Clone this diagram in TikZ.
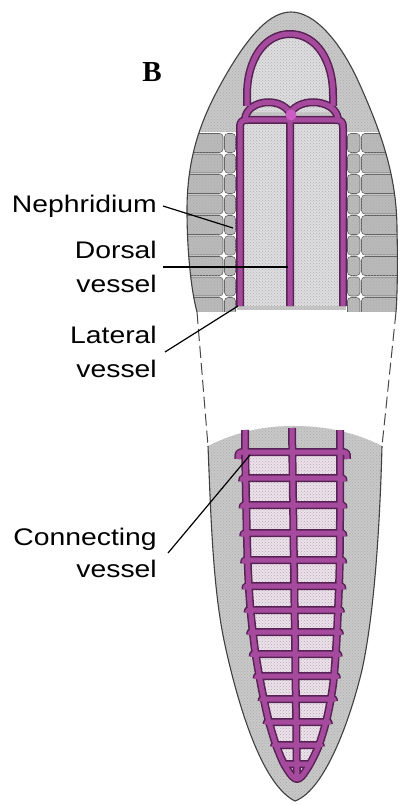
\documentclass[tikz,border=0pt]{standalone}
\usepackage{fontspec}
\setmainfont{Liberation Sans}
\newfontfamily\figserif{Liberation Serif}
\usetikzlibrary{patterns}

\definecolor{vesfill}{RGB}{166,74,158}
\definecolor{vesedge}{RGB}{88,34,84}
\definecolor{hub}{RGB}{205,92,196}
\definecolor{tissue}{RGB}{200,200,200}
\definecolor{cellgray}{RGB}{186,186,186}
\definecolor{gut}{RGB}{222,222,225}
\definecolor{lumen}{RGB}{238,225,236}

\tikzset{
  stipple/.style={postaction={pattern=crosshatch dots, pattern color=black!32}},
  vessels/.style={draw=vesfill, line width=5pt, line join=round,
    preaction={draw=vesedge, line width=8pt, line join=round}},
  outline/.style={draw=black!75, line width=1.1pt},
  gapline/.style={draw=black!72, line width=1pt, dash pattern=on 12pt off 5pt},
  cellbox/.style={draw=black!62, line width=0.6pt, rounded corners=3.5pt,
    fill=cellgray, stipple},
  tag/.style={font=\fontsize{24}{34}\selectfont, inner sep=0pt, xscale=1.18,
    align=right, anchor=east},
  leader/.style={draw=black, line width=1.2pt},
}

\def\headoutline{(197,312) .. controls (191,290) and (187,250) .. (187,210)
  .. controls (187,150) and (205,110) .. (230,68)
  .. controls (250,35) and (270,12) .. (291,12)
  .. controls (314,12) and (340,40) .. (360,85)
  .. controls (380,130) and (397,175) .. (397,230)
  .. controls (398,270) and (397,300) .. (396,312)}

\def\headloop{(247,106) -- (247,95) .. controls (247,60) and (264,34) .. (290,34)
    .. controls (316,34) and (333,60) .. (333,95) -- (333,106)}

\begin{document}
\begin{tikzpicture}[x=1pt,y=-1pt]
\useasboundingbox (0,0) rectangle (400,805);
\fill[white] (0,0) rectangle (400,805);

% ---------- anterior piece ----------
\begin{scope}
  \clip (0,0) rectangle (400,309);
  \fill[tissue, stipple] \headoutline -- cycle;
\end{scope}

% segmental nephridia on both flanks
\begin{scope}
  \clip \headoutline -- cycle;
  \clip (0,0) rectangle (400,311);
  \fill[white] (180,132) rectangle (237,312);
  \fill[white] (346,132) rectangle (400,312);
  \foreach \k in {0,...,8} {
    \pgfmathsetmacro\ya{133.5+20.5*\k}
    \pgfmathsetmacro\yb{\ya+19}
    \draw[cellbox] (170,\ya) rectangle (223,\yb);
    \draw[cellbox] (224.5,\ya) rectangle (235.5,\yb);
    \draw[cellbox] (347.5,\ya) rectangle (360,\yb);
    \draw[cellbox] (361.5,\ya) rectangle (412,\yb);
  }
\end{scope}

% gut and head cavity
\fill[gut, stipple] (240,120) rectangle (343,306);
\fill[gut, stipple] \headloop -- (333,112) -- (247,112) -- cycle;

\draw[outline] \headoutline;

% anterior blood vessels
\draw[vessels]
  (240,306) -- (240,128) .. controls (240,121) and (242,120) .. (248,120)
    -- (335,120) .. controls (341,120) and (343,121) .. (343,128) -- (343,306)
  (290,114) -- (290,306)
  (245,119) .. controls (247,100) and (280,96) .. (290,113)
    .. controls (301,96) and (336,100) .. (338,119)
  \headloop;
\fill[hub] (291,115) circle (5.5pt);

% ---------- posterior piece ----------
\fill[tissue, stipple] (208,446) .. controls (240,430) and (268,426) .. (294,426)
  .. controls (320,426) and (350,430) .. (382,446)
  .. controls (380,520) and (375,610) .. (362,670)
  .. controls (350,720) and (325,790) .. (295,801)
  .. controls (262,785) and (238,705) .. (225,645)
  .. controls (213,590) and (211,520) .. (208,446) -- cycle;
\draw[outline] (208,446) .. controls (211,520) and (213,590) .. (225,645)
  .. controls (238,705) and (262,785) .. (295,801)
  .. controls (325,790) and (350,720) .. (362,670)
  .. controls (375,610) and (380,520) .. (382,446);

\def\ladderrim{plot[smooth] coordinates {(245,430) (245.5,470) (246.5,520) (248,570)
  (250.5,610) (255,650) (261,685) (268,718) (276,745) (284,764) (292,776)
  (297,779) (302,776) (310,764) (319,745) (327,718) (333,685) (336,650)
  (338,610) (339.5,570) (340,520) (340,470) (340,430)}}
\begin{scope}
  \clip (0,452) rectangle (400,805);
  \fill[lumen, stipple] \ladderrim -- cycle;
\end{scope}

\draw[vessels]
  \ladderrim
  (292,428) -- (297,778)
  \foreach \y/\l/\r/\c in {452/245.3/340/7, 478/245.7/340/3.5, 505/246.2/340/3.5,
      533/246.9/339.8/3.5, 560/247.7/339.6/3.5, 586/249/338.8/3.5, 610/250.5/338/3,
      632/253/337/3, 654/255.6/335.7/3, 676/259.5/334/3, 699/264/331.6/2.5,
      722/269/326.5/2.5, 745/276/319/2, 764/284/310/1} {
    ({\l-\c},{\y+\c}) .. controls ({\l-\c},\y) .. ({\l+1},\y) -- ({\r-1},\y)
      .. controls ({\r+\c},\y) .. ({\r+\c},{\y+\c})
  };

% missing middle of the body
\coordinate (cutL) at (197,312);
\coordinate (cutR) at (396,312);
\coordinate (tailL) at (208,446);
\coordinate (tailR) at (382,446);
\draw[gapline] (cutL) -- (tailL);
\draw[gapline] (cutR) -- (tailR);

% ---------- labels ----------
\node (plate) [font=\figserif\bfseries\fontsize{29}{30}\selectfont, inner sep=0pt] at (152,72) {B};

\node[tag] (neph) at (157,206) {Nephridium};
\node[tag] (dors) at (157,267) {Dorsal\\vessel};
\node[tag] (lat) at (157,352) {Lateral\\vessel};
\node[tag, font=\fontsize{24}{32}\selectfont] (conn) at (157,553) {Connecting\\vessel};

\coordinate (nephTip) at (233,228);
\coordinate (dorsTip) at (288,267);
\coordinate (latTip) at (238,306);
\coordinate (connTip) at (250,455);

\draw[leader] ([xshift=6pt]neph.east) -- (nephTip);
\draw[leader] ([xshift=6pt]dors.east) -- (dorsTip);
\draw[leader] ([xshift=8pt]lat.east) -- (latTip);
\draw[leader] ([xshift=11pt]conn.east) -- (connTip);
\end{tikzpicture}
\end{document}
